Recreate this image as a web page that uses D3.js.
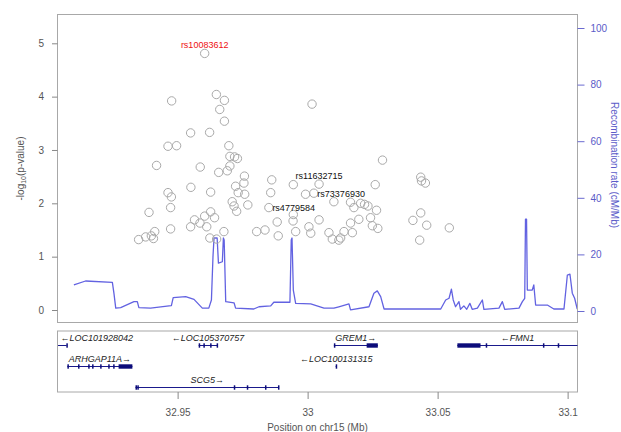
<!DOCTYPE html>
<html>
<head>
<meta charset="utf-8">
<script src="https://cdn.jsdelivr.net/npm/d3@7"></script>
<style>
  body { margin: 0; background: #fff; }
  text { font-family: "Liberation Sans", Arial, sans-serif; }
</style>
</head>
<body>
<div id="chart"></div>
<script>
var width = 621, height = 432;
var box = {left: 57.5, right: 577.5, top: 14.5, bottom: 322.5};
var geneBox = {top: 331, bottom: 392};

// SNPs: position on chr15 (Mb) and -log10(p)
var snpPos = [32.9604, 32.9477, 32.9649, 32.9680, 32.9662, 32.9680, 32.9550, 32.9623, 32.9463, 32.9496,
  32.9697, 32.9701, 32.9719, 32.9730, 32.9419, 32.9587, 32.9701, 32.9691, 32.9658, 32.9757,
  32.9755, 32.9862, 32.9551, 32.9723, 32.9627, 32.9463, 32.9476, 32.9733, 32.9758, 32.9858,
  32.9710, 32.9473, 32.9770, 32.9717, 32.9727, 32.9390, 32.9627, 32.9604, 32.9642, 32.9565,
  32.9586, 32.9550, 32.9612, 32.9473, 32.9883, 32.9678, 32.9412, 32.9399, 32.9377, 32.9350,
  32.9407, 32.9836, 32.9887, 32.9624, 32.9650, 32.9851, 32.9945, 33.0017, 33.0288, 33.0435,
  33.0438, 33.0453, 33.0260, 33.0044, 32.9992, 33.0024, 32.9945, 32.9944, 33.0044, 33.0101,
  33.0165, 33.0178, 33.0204, 33.0219, 33.0232, 33.0265, 33.0242, 33.0197, 33.0165, 33.0249,
  33.0270, 33.0005, 33.0012, 32.9954, 33.0082, 33.0140, 33.0172, 33.0127, 33.0095, 33.0120,
  33.0435, 33.0405, 33.0458, 33.0545, 33.0431, 32.9804];
var snpLogP = [4.81, 3.92, 4.04, 3.93, 3.76, 3.54, 3.32, 3.33, 3.07, 3.08,
  3.08, 2.88, 2.87, 2.84, 2.71, 2.68, 2.70, 2.61, 2.58, 2.51,
  2.38, 2.44, 2.30, 2.32, 2.21, 2.20, 2.12, 2.20, 2.17, 2.20,
  2.03, 1.92, 1.97, 1.95, 1.85, 1.83, 1.84, 1.76, 1.73, 1.69,
  1.63, 1.56, 1.56, 1.52, 1.65, 1.47, 1.47, 1.39, 1.37, 1.32,
  1.34, 1.50, 1.39, 1.35, 1.33, 1.92, 2.35, 3.86, 2.81, 2.49,
  2.42, 2.38, 2.35, 2.36, 2.17, 2.19, 1.79, 1.67, 1.69, 2.03,
  2.02, 1.92, 2.00, 1.98, 1.95, 1.87, 1.73, 1.70, 1.63, 1.58,
  1.53, 1.56, 1.44, 1.47, 1.45, 1.47, 1.45, 1.35, 1.33, 1.31,
  1.82, 1.68, 1.59, 1.54, 1.31, 1.47];

// labelled SNPs
var labelNames = ['rs10083612', 'rs11632715', 'rs73376930', 'rs4779584'];
var labelPos = [32.9604, 33.0044, 33.0024, 32.9851];
var labelLogP = [4.81, 2.36, 2.19, 1.92];
var labelColors = ['#ee1111', '#111', '#111', '#111'];

// recombination rate (cM/Mb)
var recombPos = [32.9101, 32.9146, 32.9249, 32.9255, 32.9262, 32.9281, 32.9332, 32.9345, 32.9351, 32.9396,
  32.9467, 32.9476, 32.9483, 32.9531, 32.9563, 32.9595, 32.9620, 32.9630, 32.9636, 32.9640,
  32.9652, 32.9657, 32.9672, 32.9676, 32.9679, 32.9685, 32.9717, 32.9723, 32.9793, 32.9813,
  32.9858, 32.9870, 32.9932, 32.9937, 32.9940, 32.9945, 32.9954, 33.0012, 33.0063, 33.0101,
  33.0120, 33.0159, 33.0165, 33.0236, 33.0255, 33.0268, 33.0281, 33.0294, 33.0512, 33.0531,
  33.0544, 33.0553, 33.0560, 33.0569, 33.0582, 33.0588, 33.0601, 33.0612, 33.0624, 33.0633,
  33.0653, 33.0672, 33.0678, 33.0736, 33.0749, 33.0758, 33.0813, 33.0826, 33.0835, 33.0838,
  33.0842, 33.0845, 33.0864, 33.0870, 33.0877, 33.0922, 33.0947, 33.0986, 33.0999, 33.1009,
  33.1018, 33.1027, 33.1037];
var recombRate = [9.2, 10.6, 10.1, 6.3, 1.0, 1.2, 3.3, 3.3, 1.2, 1.0,
  1.8, 1.9, 4.7, 5.1, 4.1, 1.0, 1.0, 3.9, 19.2, 25.8,
  25.8, 16.9, 17.4, 25.8, 25.1, 3.3, 2.9, 1.0, 0.7, 1.5,
  1.8, 3.1, 3.1, 25.1, 25.8, 7.4, 2.7, 2.5, 1.0, 1.0,
  1.5, 2.5, 0.4, 1.5, 6.3, 7.1, 5.1, 0.7, 0.7, 3.9,
  4.5, 7.7, 3.9, 1.5, 3.3, 0.6, 1.8, 0.6, 2.7, 0.6,
  1.0, 3.9, 0.6, 1.0, 3.3, 0.6, 1.0, 3.3, 4.5, 32.5,
  32.5, 7.4, 7.4, 9.2, 2.1, 2.1, 0.7, 0.7, 12.7, 13.0,
  6.3, 4.5, 0.7];

// genes
var geneNames = ['LOC101928042', 'ARHGAP11A', 'SCG5', 'LOC105370757', 'LOC100131315', 'GREM1', 'FMN1'];
var geneStart = [32.9040, 32.9076, 32.9338, 32.9581, 33.0108, 33.0101, 33.0576];
var geneEnd = [32.9073, 32.9326, 32.9890, 32.9653, 33.0112, 33.0270, 33.1500];
var geneStrand = ['-', '+', '+', '-', '-', '+', '-'];
var geneRow = [0, 1, 2, 0, 1, 0, 0];
var geneExons = [
  [[32.9072, 32.9073]],
  [[32.9076, 32.9081], [32.9117, 32.9121], [32.9156, 32.9160], [32.9171, 32.9175], [32.9202, 32.9206],
   [32.9233, 32.9237], [32.9252, 32.9256], [32.9273, 32.9326]],
  [[32.9338, 32.9341], [32.9345, 32.9348], [32.9716, 32.9720], [32.9766, 32.9770], [32.9836, 32.9840], [32.9886, 32.9890]],
  [[32.9581, 32.9584], [32.9599, 32.9602], [32.9625, 32.9628], [32.9650, 32.9653]],
  [[33.0108, 33.0112]],
  [[33.0101, 33.0104], [33.0227, 33.0270]],
  [[33.0576, 33.0665], [33.0685, 33.0689], [33.0905, 33.0909], [33.0962, 33.0966]]
];

var xTicks = [32.95, 33, 33.05, 33.1];
var yTicks = [0, 1, 2, 3, 4, 5];
var recombTicks = [0, 20, 40, 60, 80, 100];

var svg = d3.select('#chart').append('svg')
  .attr('width', width)
  .attr('height', height);

var x = d3.scaleLinear().domain([32.9038, 33.1038]).range([box.left, box.right]);
var y = d3.scaleLinear().domain([0, 5]).range([310, 43.3]);
var yR = d3.scaleLinear().domain([0, 100]).range([311, 28]);

var defs = svg.append('defs');
defs.append('clipPath').attr('id', 'clipMain')
  .append('rect')
  .attr('x', box.left).attr('y', box.top)
  .attr('width', box.right - box.left).attr('height', box.bottom - box.top);
defs.append('clipPath').attr('id', 'clipGene')
  .append('rect')
  .attr('x', box.left).attr('y', geneBox.top)
  .attr('width', box.right - box.left).attr('height', geneBox.bottom - geneBox.top);

// recombination line
var recomb = recombPos.map((p, i) => ({pos: p, rate: recombRate[i]}));
svg.append('path')
  .datum(recomb)
  .attr('clip-path', 'url(#clipMain)')
  .attr('fill', 'none')
  .attr('stroke', '#4646dc')
  .attr('stroke-opacity', 0.85)
  .attr('stroke-width', 1.3)
  .attr('stroke-linejoin', 'round')
  .attr('d', d3.line().x(d => x(d.pos)).y(d => yR(d.rate)));

// snps
var snps = snpPos.map((p, i) => ({pos: p, logp: snpLogP[i]}));
svg.append('g')
  .attr('clip-path', 'url(#clipMain)')
  .selectAll('circle')
  .data(snps)
  .enter().append('circle')
  .attr('cx', d => x(d.pos))
  .attr('cy', d => y(d.logp))
  .attr('r', 4.2)
  .attr('fill', 'none')
  .attr('stroke', '#a9a9a9')
  .attr('stroke-width', 1);

// snp labels: first two sit above their point, the others to the right
var labels = labelNames.map((n, i) => ({name: n, pos: labelPos[i], logp: labelLogP[i], color: labelColors[i], above: i < 2}));
svg.selectAll('.snp-label')
  .data(labels)
  .enter().append('text')
  .attr('class', 'snp-label')
  .attr('x', d => d.above ? x(d.pos) : x(d.pos) + 3.5)
  .attr('y', d => d.above ? y(d.logp) - 5.5 : y(d.logp) + 3.5)
  .attr('text-anchor', d => d.above ? 'middle' : 'start')
  .attr('fill', d => d.color)
  .style('font-size', '9px')
  .text(d => d.name);

// frames
svg.append('rect')
  .attr('x', box.left).attr('y', box.top)
  .attr('width', box.right - box.left).attr('height', box.bottom - box.top)
  .attr('fill', 'none').attr('stroke', '#a8a8a8');
svg.append('rect')
  .attr('x', box.left).attr('y', geneBox.top)
  .attr('width', box.right - box.left).attr('height', geneBox.bottom - geneBox.top)
  .attr('fill', 'none').attr('stroke', '#a8a8a8');

// left axis
var gLeft = svg.append('g')
  .attr('transform', `translate(${box.left},0)`)
  .call(d3.axisLeft(y).tickValues(yTicks).tickSize(5.5).tickPadding(8).tickFormat(d3.format('d')));
gLeft.select('.domain').remove();
gLeft.selectAll('line').attr('stroke', '#888');
gLeft.selectAll('text').attr('fill', '#555').style('font-size', '10px').style('font-family', '"Liberation Sans", Arial, sans-serif');

// right axis
var gRight = svg.append('g')
  .attr('transform', `translate(${box.right},0)`)
  .call(d3.axisRight(yR).tickValues(recombTicks).tickSize(7).tickPadding(6).tickFormat(d3.format('d')));
gRight.select('.domain').remove();
gRight.selectAll('line').attr('stroke', '#6a6ad0');
gRight.selectAll('text').attr('fill', '#5b5bc8').style('font-size', '10px').style('font-family', '"Liberation Sans", Arial, sans-serif');

// bottom axis
var gBottom = svg.append('g')
  .attr('transform', `translate(0,${geneBox.bottom})`)
  .call(d3.axisBottom(x).tickValues(xTicks).tickSize(7).tickPadding(10).tickFormat(d => d3.format('')(d)));
gBottom.select('.domain').remove();
gBottom.selectAll('line').attr('stroke', '#888');
gBottom.selectAll('text').attr('fill', '#555').style('font-size', '10px').style('font-family', '"Liberation Sans", Arial, sans-serif');

// axis titles
var yTitle = svg.append('text')
  .attr('transform', `translate(20,${(box.top + box.bottom) / 2}) rotate(-90)`)
  .attr('text-anchor', 'middle')
  .attr('dy', '0.35em')
  .attr('fill', '#555')
  .style('font-size', '10px');
yTitle.append('tspan').text('-log');
yTitle.append('tspan').attr('dy', '0.3em').style('font-size', '7px').text('10');
yTitle.append('tspan').attr('dy', '-0.2em').text('(p-value)');

svg.append('text')
  .attr('transform', `translate(614,165) rotate(90)`)
  .attr('text-anchor', 'middle')
  .attr('dy', '0.35em')
  .attr('fill', '#5b5bc8')
  .style('font-size', '10px')
  .text('Recombination rate (cM/Mb)');

svg.append('text')
  .attr('x', (box.left + box.right) / 2)
  .attr('y', 431)
  .attr('text-anchor', 'middle')
  .attr('fill', '#555')
  .style('font-size', '10px')
  .text('Position on chr15 (Mb)');

// genes
var rowY = r => 345.5 + r * 21;
var geneG = svg.append('g').attr('clip-path', 'url(#clipGene)');
geneNames.forEach((name, i) => {
  var gy = rowY(geneRow[i]);
  geneG.append('line')
    .attr('x1', x(geneStart[i])).attr('x2', x(geneEnd[i]))
    .attr('y1', gy).attr('y2', gy)
    .attr('stroke', '#1a1a8c').attr('stroke-width', 1);
  geneG.selectAll(null)
    .data(geneExons[i])
    .enter().append('rect')
    .attr('x', d => x(d[0]))
    .attr('width', d => Math.max(1.5, x(d[1]) - x(d[0])))
    .attr('y', gy - 2.2)
    .attr('height', 4.4)
    .attr('fill', '#0c0c7a');

  var label = geneStrand[i] === '+' ? name + '\u2192' : '\u2190' + name;
  var t = svg.append('text')
    .attr('y', gy - 5)
    .attr('fill', '#222')
    .style('font-size', '9px')
    .style('font-style', 'italic')
    .text(label);
  var w = t.node().getComputedTextLength();
  var cx = (Math.max(x(geneStart[i]), box.left) + Math.min(x(geneEnd[i]), box.right)) / 2;
  var lx = Math.max(box.left + 3, Math.min(box.right - 1 - w, cx - w / 2));
  t.attr('x', lx);
});
</script>
</body>
</html>
